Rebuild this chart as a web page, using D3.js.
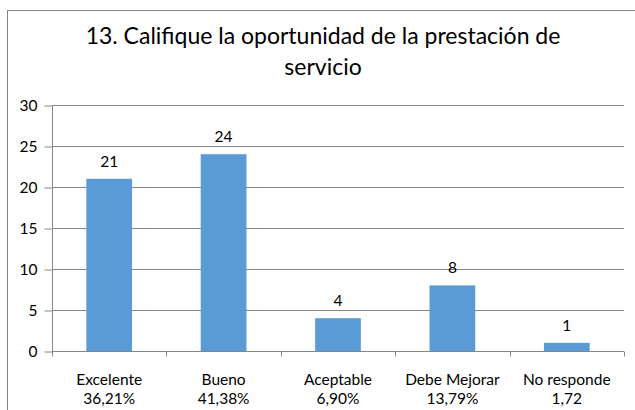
<!DOCTYPE html>
<html>
<head>
<meta charset="utf-8">
<script src="https://cdn.jsdelivr.net/npm/d3@7"></script>
<style>
  body { margin: 0; background: #fff; }
  text { font-family: Lato, "Open Sans", sans-serif; fill: #000; }
</style>
</head>
<body>
<div id="chart"></div>
<script>
var width = 635;
var height = 410;

var categories = ["Excelente", "Bueno", "Aceptable", "Debe Mejorar", "No responde"];
var percents = ["36,21%", "41,38%", "6,90%", "13,79%", "1,72"];
var values = [21, 24, 4, 8, 1];
var yTicks = [0, 5, 10, 15, 20, 25, 30];
var titleLines = ["13. Califique la oportunidad de la prestación de", "servicio"];

var margin = {top: 105, right: 11, bottom: 59, left: 52};

var svg = d3.select("#chart")
  .append("svg")
  .attr("width", width)
  .attr("height", height);

// outer chart frame (runs past the picture edge)
svg.append("rect")
  .attr("x", 7.5)
  .attr("y", 10.5)
  .attr("width", 700)
  .attr("height", 500)
  .attr("fill", "#fff")
  .attr("stroke", "#868686")
  .attr("stroke-width", 1);

svg.selectAll(".title")
  .data(titleLines)
  .enter().append("text")
  .attr("class", "title")
  .attr("x", 323)
  .attr("y", (d, i) => 44 + i * 31)
  .attr("text-anchor", "middle")
  .style("font-size", "23px")
  .text(d => d);

var x = d3.scaleBand()
  .domain(categories)
  .range([margin.left, width - margin.right])
  .paddingInner(0.6)
  .paddingOuter(0.3);

var y = d3.scaleLinear()
  .domain([0, 30])
  .range([height - margin.bottom, margin.top]);

// gridlines
svg.append("g")
  .selectAll("line")
  .data(yTicks.slice(1))
  .enter().append("line")
  .attr("x1", margin.left)
  .attr("x2", width - margin.right)
  .attr("y1", d => Math.round(y(d)) + 0.5)
  .attr("y2", d => Math.round(y(d)) + 0.5)
  .attr("stroke", "#868686")
  .attr("stroke-width", 1);

// y axis
var yAxis = svg.append("g")
  .attr("transform", "translate(" + (margin.left + 0.5) + ",0.5)")
  .call(d3.axisLeft(y).tickValues(yTicks).tickSize(8).tickPadding(7));
yAxis.select(".domain").attr("stroke", "#868686").attr("d", "M0," + Math.round(y(30)) + "V" + Math.round(y(0)));
yAxis.selectAll(".tick line").attr("stroke", "#868686");
yAxis.selectAll(".tick text").style("font-size", "15.5px").style("font-family", "Lato, sans-serif");

// bars
svg.append("g")
  .selectAll("rect")
  .data(values)
  .enter().append("rect")
  .attr("x", (d, i) => x(categories[i]))
  .attr("width", x.bandwidth())
  .attr("y", d => y(d))
  .attr("height", d => y(0) - y(d))
  .attr("fill", "#5B9BD5");

// data labels
svg.append("g")
  .selectAll("text")
  .data(values)
  .enter().append("text")
  .attr("x", (d, i) => x(categories[i]) + x.bandwidth() / 2)
  .attr("y", d => y(d) - 12)
  .attr("text-anchor", "middle")
  .style("font-size", "15.5px")
  .text(d => d);

// x axis line and tick marks between categories
var xBase = Math.round(y(0)) + 0.5;
svg.append("line")
  .attr("x1", margin.left)
  .attr("x2", width - margin.right)
  .attr("y1", xBase)
  .attr("y2", xBase)
  .attr("stroke", "#868686");

var bounds = d3.range(categories.length + 1);
svg.append("g")
  .selectAll("line")
  .data(bounds)
  .enter().append("line")
  .attr("x1", d => Math.round(margin.left + d * (width - margin.right - margin.left) / categories.length) + 0.5)
  .attr("x2", d => Math.round(margin.left + d * (width - margin.right - margin.left) / categories.length) + 0.5)
  .attr("y1", xBase)
  .attr("y2", xBase + 5)
  .attr("stroke", "#868686");

// category labels
var labels = svg.append("g")
  .selectAll("text")
  .data(categories)
  .enter().append("text")
  .attr("x", d => x(d) + x.bandwidth() / 2)
  .attr("text-anchor", "middle")
  .style("font-size", "15.5px");

labels.append("tspan")
  .attr("x", d => x(d) + x.bandwidth() / 2)
  .attr("y", 385)
  .text(d => d);
labels.append("tspan")
  .attr("x", d => x(d) + x.bandwidth() / 2)
  .attr("y", 404)
  .text((d, i) => percents[i]);
</script>
</body>
</html>
